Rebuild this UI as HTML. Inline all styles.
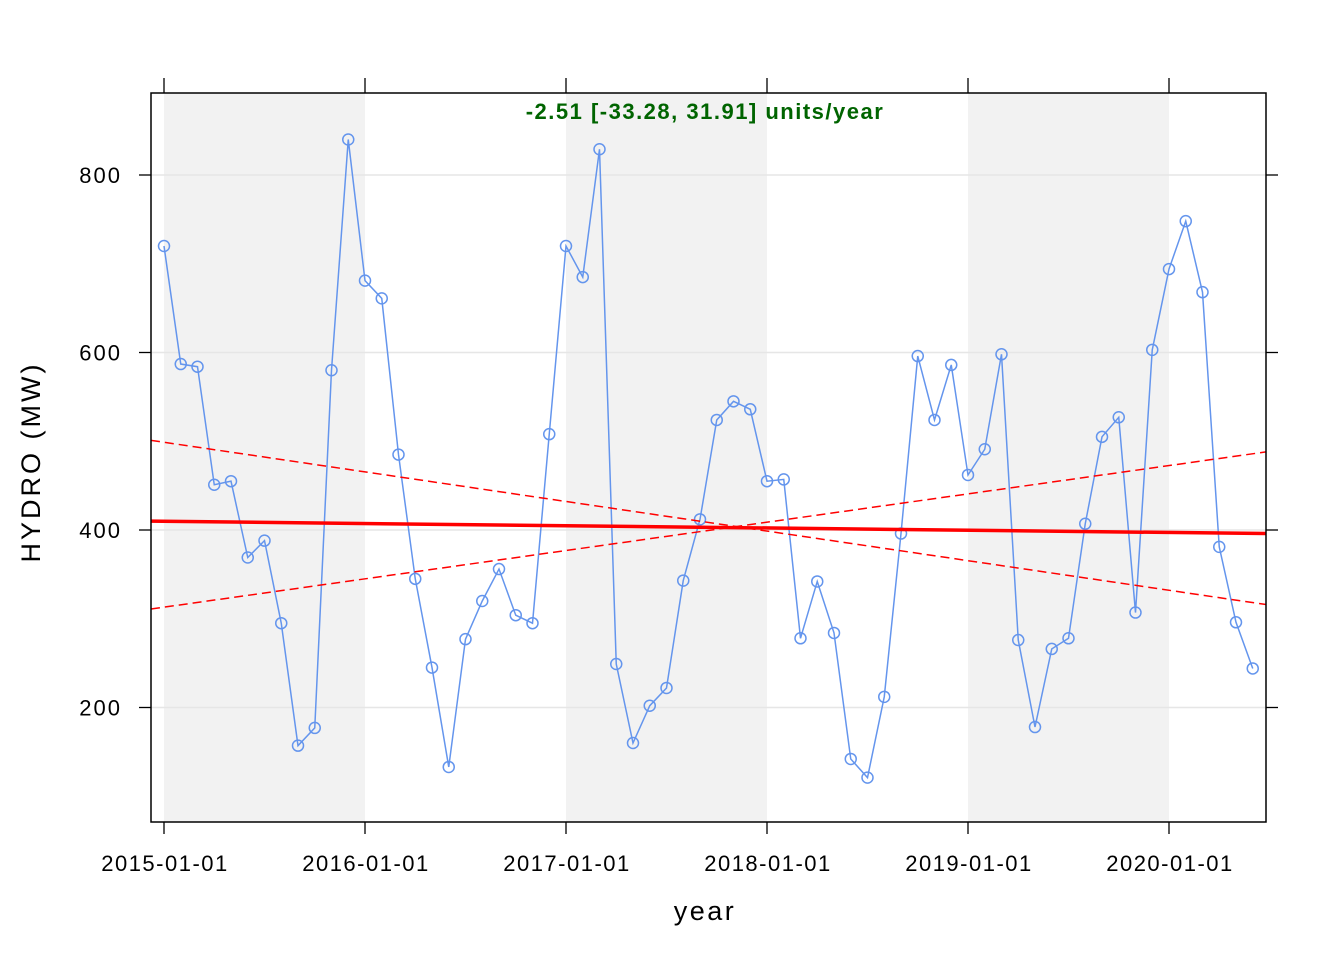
<!DOCTYPE html>
<html><head><meta charset="utf-8"><style>
body{margin:0;background:#fff}
svg{display:block;font-family:"Liberation Sans",Arial,sans-serif}
</style></head><body>
<svg id="chart" width="1344" height="960"></svg>
<script>
const yearLabels=["2015-01-01","2016-01-01","2017-01-01","2018-01-01","2019-01-01","2020-01-01"];
const yTicks=[200,400,600,800];
const hydroValues=[720,587,584,451,455,369,388,295,157,177,580,840,
681,661,485,345,245,133,277,320,356,304,295,508,
720,685,829,249,160,202,222,343,412,524,545,536,
455,457,278,342,284,142,121,212,396,596,524,586,
462,491,598,276,178,266,278,407,505,527,307,603,
694,748,668,381,296,244];
const trendFit=[410,396];
const trendLower=[501,316];
const trendUpper=[311,488];
const NS="http://www.w3.org/2000/svg";
const svg=document.getElementById('chart');
const L=151,R=1266,T=93,B=822;
const x0=164,pxYear=201;
const xm=i=>x0+i*pxYear/12;
const xy=y=>x0+y*pxYear;
const yv=v=>530-(v-400)*0.8875;
function mk(tag,a,p){const e=document.createElementNS(NS,tag);for(const k in a)e.setAttribute(k,a[k]);(p||svg).appendChild(e);return e;}
for(let i=0;i<yearLabels.length;i+=2){
const r=mk('rect',{x:xy(i),y:T,width:pxYear,height:B-T,fill:'#f2f2f2'});


}
yTicks.forEach(v=>{
const g=mk('line',{x1:L,x2:R,y1:yv(v),y2:yv(v),stroke:'#e6e6e6','stroke-width':1.5});


const t1=mk('line',{x1:L-12,x2:L,y1:yv(v),y2:yv(v),stroke:'#000','stroke-width':1.3});


const t2=mk('line',{x1:R,x2:R+12,y1:yv(v),y2:yv(v),stroke:'#000','stroke-width':1.3});


const tx=mk('text',{x:L-29,y:yv(v)+8,'text-anchor':'end','font-size':22,'letter-spacing':2});
tx.textContent=v;


});
yearLabels.forEach((lab,i)=>{
const x=xy(i);
const a=mk('line',{x1:x,x2:x,y1:T-15,y2:T,stroke:'#000','stroke-width':1.3});


const b=mk('line',{x1:x,x2:x,y1:B,y2:B+12,stroke:'#000','stroke-width':1.3});


const t=mk('text',{x:x+1,y:871,'text-anchor':'middle','font-size':22,'letter-spacing':1.5});
t.textContent=lab;


});
const pts=hydroValues.map((v,i)=>xm(i)+','+yv(v)).join(' ');
const pl=mk('polyline',{points:pts,fill:'none',stroke:'#6495ed','stroke-width':1.5});


hydroValues.forEach((v,i)=>{
const c=mk('circle',{cx:xm(i),cy:yv(v),r:5.5,fill:'none',stroke:'#6495ed','stroke-width':1.5});


});
function tl(vals,dash,w,name){
const e=mk('line',{x1:L,x2:R,y1:yv(vals[0]),y2:yv(vals[1]),stroke:'#ff0000','stroke-width':w});
if(dash)e.setAttribute('stroke-dasharray','9,5');


}
tl(trendLower,true,1.5,'trend-ci-lower');
tl(trendUpper,true,1.5,'trend-ci-upper');
tl(trendFit,false,3.5,'trend-line');
const fr=mk('rect',{x:L,y:T,width:R-L,height:B-T,fill:'none',stroke:'#000','stroke-width':1.5});


const ti=mk('text',{x:705,y:119,'text-anchor':'middle','font-size':22,'font-weight':'bold',fill:'#006400','letter-spacing':1.5});
ti.textContent='-2.51 [-33.28, 31.91] units/year';


const xt=mk('text',{x:705,y:920,'text-anchor':'middle','font-size':27,'letter-spacing':2.5});
xt.textContent='year';


const yt=mk('text',{x:0,y:0,'text-anchor':'middle','font-size':27,'letter-spacing':3,transform:'translate(40,462) rotate(-90)'});
yt.textContent='HYDRO (MW)';


</script>
</body></html>
